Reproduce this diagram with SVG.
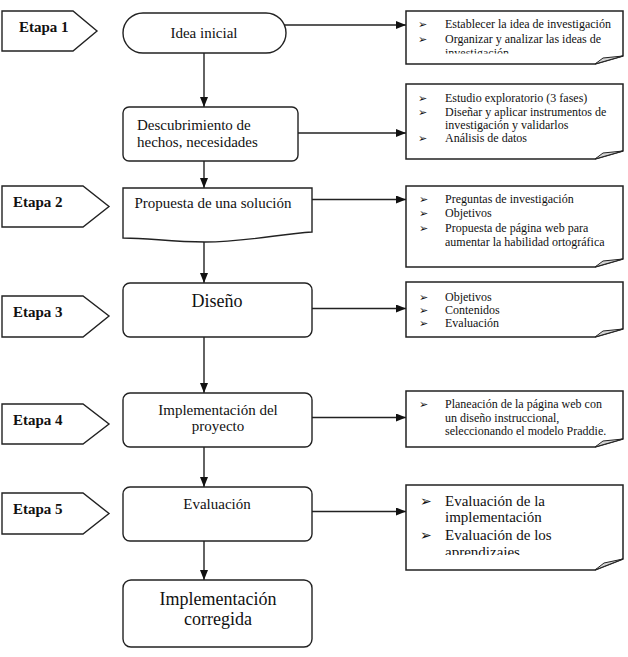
<svg xmlns="http://www.w3.org/2000/svg" width="628" height="657" viewBox="0 0 628 657">
<style>
.bg{fill:#fff}
.shape{fill:#fff;stroke:#222;stroke-width:1.4}
.note{fill:#fff;stroke:#222;stroke-width:1.5}
.flap{fill:#d4d4d4;stroke:#222;stroke-width:1}
.t{fill:#111}
.m{font-size:15px}
.big{font-size:18px}
.et{font-size:15px;font-weight:bold}
.n{font-size:12px}
.n6{font-size:15px}
.b{font-size:11px;fill:#111}
.b6{font-size:14px;fill:#111}
.c{fill:none;stroke:#222;stroke-width:1.4}
</style>
<defs>
<marker id="ah" markerWidth="10" markerHeight="8" refX="10" refY="4" orient="auto" markerUnits="userSpaceOnUse">
<path d="M0,0 L10,4 L0,8 Z" fill="#111"/>
</marker>
<clipPath id="clip1"><rect x="400" y="0" width="228" height="53.5"/></clipPath>
<clipPath id="clip6"><rect x="400" y="480" width="228" height="75"/></clipPath>
</defs>
<rect class="bg" x="0" y="0" width="628" height="657"/>

<g id="connectors">
<line class="c" x1="204" y1="53" x2="204" y2="107" marker-end="url(#ah)"/>
<line class="c" x1="204" y1="161" x2="204" y2="188" marker-end="url(#ah)"/>
<line class="c" x1="204" y1="242" x2="204" y2="283" marker-end="url(#ah)"/>
<line class="c" x1="204" y1="337" x2="204" y2="393" marker-end="url(#ah)"/>
<line class="c" x1="204" y1="447" x2="204" y2="487" marker-end="url(#ah)"/>
<line class="c" x1="204" y1="541" x2="204" y2="580" marker-end="url(#ah)"/>
<line class="c" x1="284" y1="25" x2="406" y2="25" marker-end="url(#ah)"/>
<line class="c" x1="298" y1="133" x2="406" y2="133" marker-end="url(#ah)"/>
<line class="c" x1="312" y1="199.5" x2="406" y2="199.5" marker-end="url(#ah)"/>
<line class="c" x1="312" y1="308.5" x2="406" y2="308.5" marker-end="url(#ah)"/>
<line class="c" x1="312" y1="417.5" x2="406" y2="417.5" marker-end="url(#ah)"/>
<line class="c" x1="312" y1="511.5" x2="406" y2="511.5" marker-end="url(#ah)"/>
</g>

<g font-family="'Liberation Serif', 'Times New Roman', Times, serif">
<g id="etapa1">
<polygon class="shape" points="2,11 73,11 97,31 73,51 2,51"/>
<text class="t et" x="19" y="31.5">Etapa 1</text>
</g>
<g id="etapa2">
<polygon class="shape" points="2,186 83,186 109,206.5 83,227 2,227"/>
<text class="t et" x="13" y="206.5">Etapa 2</text>
</g>
<g id="etapa3">
<polygon class="shape" points="2,296 83,296 109,316 83,337 2,337"/>
<text class="t et" x="13" y="316.5">Etapa 3</text>
</g>
<g id="etapa4">
<polygon class="shape" points="2,404 83,404 109,424 83,444 2,444"/>
<text class="t et" x="13" y="425">Etapa 4</text>
</g>
<g id="etapa5">
<polygon class="shape" points="2,493 83,493 109,513.5 83,534 2,534"/>
<text class="t et" x="13" y="514">Etapa 5</text>
</g>

<g id="idea">
<rect class="shape" x="123" y="13" width="163" height="40" rx="20" ry="20"/>
<text class="t m" x="204" y="37.5" text-anchor="middle">Idea inicial</text>
</g>
<g id="descubrimiento">
<rect class="shape" x="123" y="107" width="175" height="54" rx="6" ry="6"/>
<text class="t m" x="137" y="129.5">Descubrimiento de</text>
<text class="t m" x="137" y="146.5">hechos, necesidades</text>
</g>
<g id="propuesta">
<path class="shape" d="M123,188 H312 V232 C280,234 245,242 205,242 C170,242 150,238 123,238 Z"/>
<text class="t m" x="213" y="207.5" text-anchor="middle">Propuesta de una solución</text>
</g>
<g id="diseno">
<rect class="shape" x="123" y="283" width="189" height="54" rx="7" ry="7"/>
<text class="t big" x="217" y="306.5" text-anchor="middle">Diseño</text>
</g>
<g id="implementacion">
<rect class="shape" x="123" y="393" width="189" height="54" rx="7" ry="7"/>
<text class="t m" x="218" y="414.5" text-anchor="middle">Implementación del</text>
<text class="t m" x="218" y="431" text-anchor="middle">proyecto</text>
</g>
<g id="evaluacion">
<rect class="shape" x="123" y="487" width="189" height="54" rx="7" ry="7"/>
<text class="t m" x="217" y="508.5" text-anchor="middle">Evaluación</text>
</g>
<g id="corregida">
<rect class="shape" x="123" y="580" width="189" height="67" rx="8" ry="8"/>
<text class="t big" x="218" y="604.5" text-anchor="middle">Implementación</text>
<text class="t big" x="218" y="625" text-anchor="middle">corregida</text>
</g>

<g id="nota1">
<path class="note" d="M406,11 H623 V56 L595,64 H406 Z"/>
<path class="flap" d="M595,64 L603,58 L623,56 Z"/>
<g clip-path="url(#clip1)">
<text class="b" x="418" y="28" font-family="'DejaVu Sans', sans-serif">➢</text>
<text class="t n" x="445" y="28">Establecer la idea de investigación</text>
<text class="b" x="418" y="42.5" font-family="'DejaVu Sans', sans-serif">➢</text>
<text class="t n" x="445" y="42.5">Organizar y analizar las ideas de</text>
<text class="t n" x="445" y="57">investigación</text>
</g>
</g>
<g id="nota2">
<path class="note" d="M406,84 H623 V151 L595,159 H406 Z"/>
<path class="flap" d="M595,159 L603,153 L623,151 Z"/>
<text class="b" x="418" y="102" font-family="'DejaVu Sans', sans-serif">➢</text>
<text class="t n" x="445" y="102">Estudio exploratorio (3 fases)</text>
<text class="b" x="418" y="116" font-family="'DejaVu Sans', sans-serif">➢</text>
<text class="t n" x="445" y="116">Diseñar y aplicar instrumentos de</text>
<text class="t n" x="445" y="129">investigación y validarlos</text>
<text class="b" x="418" y="142" font-family="'DejaVu Sans', sans-serif">➢</text>
<text class="t n" x="445" y="142">Análisis de datos</text>
</g>
<g id="nota3">
<path class="note" d="M406,186 H623 V259 L595,267 H406 Z"/>
<path class="flap" d="M595,267 L603,261 L623,259 Z"/>
<text class="b" x="419" y="203" font-family="'DejaVu Sans', sans-serif">➢</text>
<text class="t n" x="445" y="203">Preguntas de investigación</text>
<text class="b" x="419" y="217" font-family="'DejaVu Sans', sans-serif">➢</text>
<text class="t n" x="445" y="217">Objetivos</text>
<text class="b" x="419" y="232" font-family="'DejaVu Sans', sans-serif">➢</text>
<text class="t n" x="445" y="232">Propuesta de página web para</text>
<text class="t n" x="445" y="246">aumentar la habilidad ortográfica</text>
</g>
<g id="nota4">
<path class="note" d="M406,282 H623 V329 L595,337 H406 Z"/>
<path class="flap" d="M595,337 L603,331 L623,329 Z"/>
<text class="b" x="419" y="301" font-family="'DejaVu Sans', sans-serif">➢</text>
<text class="t n" x="445" y="301">Objetivos</text>
<text class="b" x="419" y="314" font-family="'DejaVu Sans', sans-serif">➢</text>
<text class="t n" x="445" y="314">Contenidos</text>
<text class="b" x="419" y="327" font-family="'DejaVu Sans', sans-serif">➢</text>
<text class="t n" x="445" y="327">Evaluación</text>
</g>
<g id="nota5">
<path class="note" d="M406,391 H623 V439 L595,447 H406 Z"/>
<path class="flap" d="M595,447 L603,441 L623,439 Z"/>
<text class="b" x="419" y="408" font-family="'DejaVu Sans', sans-serif">➢</text>
<text class="t n" x="445" y="408">Planeación de la página web con</text>
<text class="t n" x="445" y="422">un diseño instruccional,</text>
<text class="t n" x="445" y="435">seleccionando el modelo Praddie.</text>
</g>
<g id="nota6">
<path class="note" d="M406,485 H623 V559 L595,570 H406 Z"/>
<path class="flap" d="M595,570 L604,563 L623,559 Z"/>
<g clip-path="url(#clip6)">
<text class="b6" x="420" y="506" font-family="'DejaVu Sans', sans-serif">➢</text>
<text class="t n6" x="445" y="506">Evaluación de la</text>
<text class="t n6" x="445" y="522">implementación</text>
<text class="b6" x="420" y="540" font-family="'DejaVu Sans', sans-serif">➢</text>
<text class="t n6" x="445" y="540">Evaluación de los</text>
<text class="t n6" x="445" y="557">aprendizajes</text>
</g>
</g>
</g>
</svg>
